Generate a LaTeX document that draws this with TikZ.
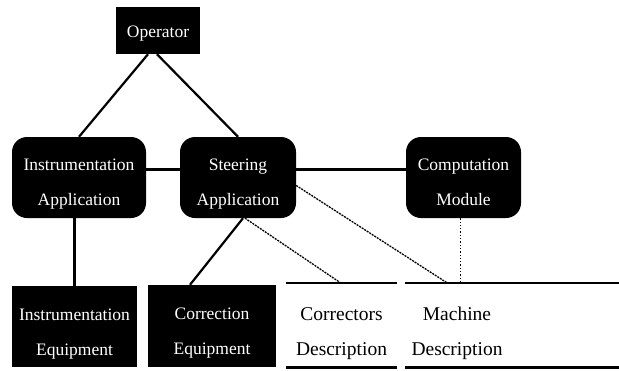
\documentclass[tikz,border=0pt]{standalone}
\usepackage{fontspec}
\setmainfont{Liberation Serif}
\usepackage{tikz}
\usetikzlibrary{calc,positioning}
\newcommand{\txtdrop}[1]{\rule{0pt}{#1}}
\tikzstyle{block}   = [shape=rectangle,fill=black,text=white,align=center,text depth=4pt,font=\fontsize{17.5}{35}\selectfont]
\tikzstyle{process} = [block,rounded corners=15pt]
\tikzstyle{store}   = [shape=rectangle,align=center,text depth=4pt,font=\fontsize{19.5}{35}\selectfont]
\tikzstyle{link}    = [line width=2.2pt]
\tikzstyle{datalink}= [line width=1.3pt,dash pattern=on 2pt off 1pt]

\begin{document}
\begin{tikzpicture}[x=1pt,y=-1pt]
  \useasboundingbox (0,0) rectangle (619,370);

  % Processes
  \node[block,minimum width=84pt,minimum height=47pt] (op) at (158,30.5) {\txtdrop{17pt}Operator};
  \node[process,minimum width=134pt,minimum height=81pt] (instApp) at (79,177.5) {\txtdrop{25pt}Instrumentation\\Application};
  \node[process,minimum width=116pt,minimum height=81pt] (steerApp) at (238,177.5) {\txtdrop{25pt}Steering\\Application};
  \node[process,minimum width=115pt,minimum height=81pt] (compMod) at (463.5,177.5) {\txtdrop{25pt}Computation\\Module};

  % Equipment
  \node[block,minimum width=125pt,minimum height=81pt] (instEq) at (74.5,326.5) {\txtdrop{26pt}Instrumentation\\Equipment};
  \node[block,minimum width=128pt,minimum height=82pt] (corrEq) at (212,326) {\txtdrop{26pt}Correction\\Equipment};

  % Data stores
  \node[store,minimum width=111pt,minimum height=84pt] (corrDesc) at (341.5,325) {\txtdrop{29pt}Correctors\\Description};
  \node[store,minimum width=214pt,minimum height=84pt] (machDesc) at (512,325) {};
  \node[store] (machLabel) at (457,325) {\txtdrop{29pt}Machine\\Description};
  \draw[line width=2.4pt] (corrDesc.north west) -- (corrDesc.north east);
  \draw[line width=3pt] (corrDesc.south west) -- (corrDesc.south east);
  \draw[line width=2.4pt] (machDesc.north west) -- (machDesc.north east);
  \draw[line width=3pt] (machDesc.south west) -- (machDesc.south east);

  % Control links
  \draw[link] ([xshift=-10pt]op.south) -- (instApp.north);
  \draw[link] ([xshift=-1pt]op.south) -- (steerApp.north);
  \draw[link] ([yshift=8pt]instApp.east) -- ([yshift=8pt]steerApp.west);
  \draw[link] ([yshift=8pt]steerApp.east) -- ([yshift=8pt]compMod.west);
  \draw[link] (instApp.south -| instEq.north) -- (instEq.north);
  \draw[link] ([xshift=5pt]steerApp.south) -- ([xshift=-22pt]corrEq.north);

  % Data links
  \draw[datalink] ([xshift=7pt]steerApp.south) -- ([xshift=-1pt]corrDesc.north);
  \draw[datalink] ([yshift=-8pt]steerApp.east) -- ([xshift=-65pt]machDesc.north);
  \draw[line width=1.3pt,dotted] ([xshift=-3pt]compMod.south) -- ([xshift=-3pt]compMod.south |- machDesc.north);
\end{tikzpicture}
\end{document}
